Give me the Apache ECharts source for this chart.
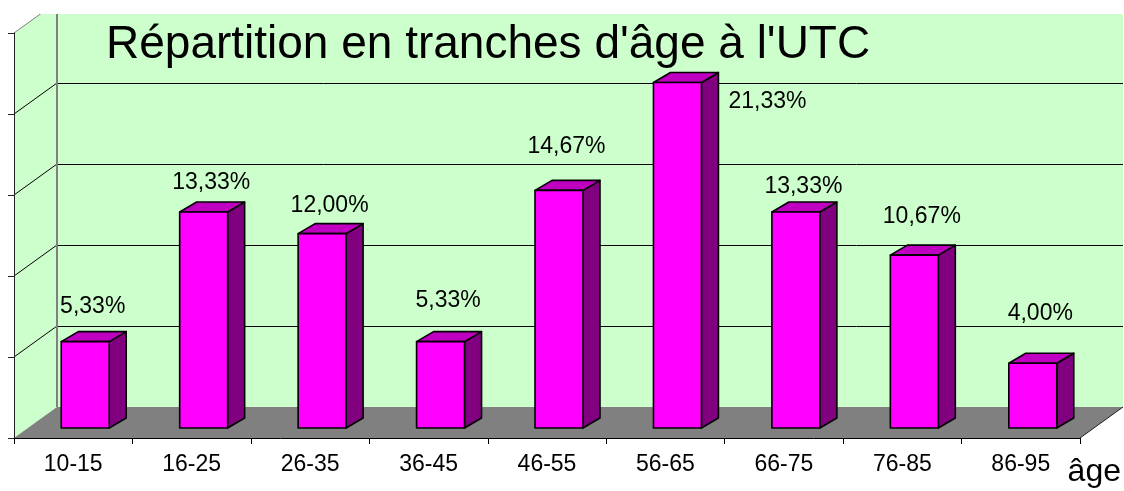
<!DOCTYPE html>
<html>
<head>
<meta charset="utf-8">
<script src="https://cdn.jsdelivr.net/npm/echarts@6/dist/echarts.min.js"></script>
<style>
html,body{margin:0;padding:0;background:#fff;}
#chart{width:1124px;height:491px;}
</style>
</head>
<body>
<div id="chart"></div>
<script>
// ---- data ----
const categories = ['10-15', '16-25', '26-35', '36-45', '46-55', '56-65', '66-75', '76-85', '86-95'];
const shares = [5.33, 13.33, 12.00, 5.33, 14.67, 21.33, 13.33, 10.67, 4.00];
const valueTicks = [0, 5, 10, 15, 20, 25];
const titleText = "Répartition en tranches d'âge à l'UTC";
const axisName = 'âge';

// ---- layout / style (not data) ----
const WALL_DX = 43, WALL_DY = 31;      // depth of the floor / walls
const BAR_OFF_X = 12, BAR_OFF_Y = 10;  // bar front plane offset
const BAR_DX = 17, BAR_DY = 10;        // bar depth
const labelLift = [35, 29, 28, 41, 44, 0, 25, 38, 50];
const FONT = '"Liberation Sans", Arial, sans-serif';

const fmt = v => v.toFixed(2).replace('.', ',') + '%';
const maxShare = Math.max.apply(null, shares);
const crisp = y => Math.round(y) + 0.5;

function renderWalls(params, api) {
  const cs = params.coordSys;
  const gx = cs.x, gw = cs.width;
  const y0 = api.coord([0, valueTicks[0]])[1];
  const yTop = api.coord([0, valueTicks[valueTicks.length - 1]])[1];
  const children = [];
  // back wall
  children.push({type: 'polygon', shape: {points: [[gx + WALL_DX, y0 - WALL_DY], [gx + gw + WALL_DX, y0 - WALL_DY], [gx + gw + WALL_DX, yTop - WALL_DY], [gx + WALL_DX, yTop - WALL_DY]]}, style: {fill: '#CCFFCC'}});
  // side wall
  children.push({type: 'polygon', shape: {points: [[gx, y0], [gx + WALL_DX, y0 - WALL_DY], [gx + WALL_DX, yTop - WALL_DY], [gx, yTop]]}, style: {fill: '#CCFFCC'}});
  // floor
  children.push({type: 'polygon', shape: {points: [[gx, y0], [gx + gw, y0], [gx + gw + WALL_DX, y0 - WALL_DY], [gx + WALL_DX, y0 - WALL_DY]]}, style: {fill: '#808080'}});
  // gridlines on back and side walls
  valueTicks.forEach(function (t) {
    if (t === valueTicks[0]) return;
    const y = api.coord([0, t])[1];
    const yb = crisp(y - WALL_DY);
    children.push({type: 'line', shape: {x1: gx + WALL_DX, y1: yb, x2: gx + gw + WALL_DX, y2: yb}, style: {stroke: '#000', lineWidth: 1}});
    children.push({type: 'line', shape: {x1: gx, y1: y, x2: gx + WALL_DX, y2: y - WALL_DY}, style: {stroke: t === valueTicks[valueTicks.length - 1] ? '#808080' : '#000', lineWidth: 1}});
  });
  // back wall left edge
  children.push({type: 'line', shape: {x1: gx + WALL_DX, y1: y0 - WALL_DY, x2: gx + WALL_DX, y2: yTop - WALL_DY}, style: {stroke: '#808080', lineWidth: 2}});
  // floor right edge
  children.push({type: 'line', shape: {x1: gx + gw, y1: y0, x2: gx + gw + WALL_DX, y2: y0 - WALL_DY}, style: {stroke: '#222', lineWidth: 1}});
  // crop band at very top (white)
  children.push({type: 'rect', shape: {x: 0, y: 0, width: 1124, height: 14}, style: {fill: '#fff'}});
  return {type: 'group', children: children};
}

function renderBar(params, api) {
  const i = api.value(0), v = api.value(1);
  const base = api.coord([i, 0]);
  const top = api.coord([i, v]);
  const bw = api.size([1, 0])[0];
  const w = bw * 0.405;
  const cx = base[0] + BAR_OFF_X;
  const x1 = cx - w / 2, x2 = cx + w / 2;
  const yb = base[1] - BAR_OFF_Y, yt = top[1] - BAR_OFF_Y;
  const edge = {stroke: '#000', lineWidth: 1.6, lineJoin: 'round'};
  const children = [
    {type: 'polygon', shape: {points: [[x2, yb], [x2 + BAR_DX, yb - BAR_DY], [x2 + BAR_DX, yt - BAR_DY], [x2, yt]]}, style: Object.assign({fill: '#800080'}, edge)},
    {type: 'polygon', shape: {points: [[x1, yt], [x2, yt], [x2 + BAR_DX, yt - BAR_DY], [x1 + BAR_DX, yt - BAR_DY]]}, style: Object.assign({fill: '#C000C0'}, edge)},
    {type: 'rect', shape: {x: x1, y: yt, width: w, height: yb - yt}, style: Object.assign({fill: '#FF00FF'}, edge)}
  ];
  let lx, ly, align;
  if (v === maxShare) {
    lx = x2 + BAR_DX + 10; ly = yt + 19; align = 'left';
  } else {
    lx = cx + BAR_DX / 2 - 1; ly = yt - labelLift[i]; align = 'center';
  }
  children.push({type: 'text', style: {x: lx, y: ly, text: fmt(v), fill: '#000', font: '23px ' + FONT, align: align, verticalAlign: 'middle'}});
  return {type: 'group', children: children};
}

const chart = echarts.init(document.getElementById('chart'), null, {renderer: 'canvas'});
chart.setOption({
  animation: false,
  backgroundColor: '#fff',
  grid: {left: 14, right: 44, top: 33, bottom: 53, containLabel: false},
  xAxis: {
    type: 'category', data: categories, z: 10,
    axisLine: {lineStyle: {color: '#000', width: 1}},
    axisTick: {show: true, length: 6, lineStyle: {color: '#000'}},
    axisLabel: {color: '#000', fontSize: 23, fontFamily: FONT, margin: 15, interval: 0},
    splitLine: {show: false}
  },
  yAxis: {
    type: 'value', min: valueTicks[0], max: valueTicks[valueTicks.length - 1], interval: valueTicks[1] - valueTicks[0], z: 10,
    axisLine: {show: true, lineStyle: {color: '#222', width: 1}},
    axisTick: {show: true, length: 6, lineStyle: {color: '#222'}},
    axisLabel: {show: false},
    splitLine: {show: false}
  },
  series: [
    {type: 'custom', z: 1, silent: true, renderItem: renderWalls, data: [[0, 0]], clip: false},
    {type: 'custom', z: 3, silent: true, renderItem: renderBar, data: shares.map((v, i) => [i, v]), clip: false}
  ],
  graphic: [
    {type: 'text', z: 20, style: {x: 106, y: 45, text: titleText, fill: '#000', font: '46px ' + FONT, align: 'left', verticalAlign: 'middle'}},
    {type: 'text', z: 20, style: {x: 1121, y: 472, text: axisName, fill: '#000', font: '32px ' + FONT, align: 'right', verticalAlign: 'middle'}}
  ]
});
</script>
</body>
</html>
